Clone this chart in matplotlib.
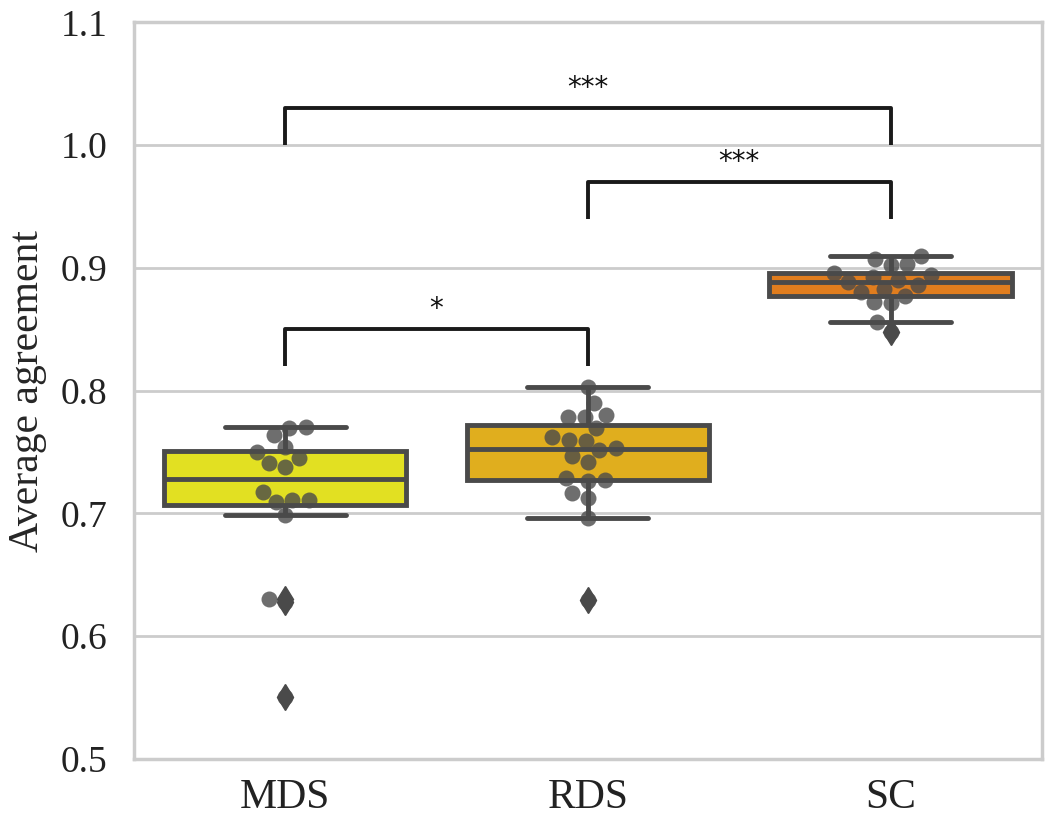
import numpy as np
import pandas as pd
import matplotlib
matplotlib.use("Agg")
import matplotlib.pyplot as plt
import seaborn as sns

# average agreement per method
methods = ["MDS", "RDS", "SC"]
mds = [0.5507, 0.6281, 0.6300, 0.6987, 0.7095, 0.7109, 0.7109, 0.7177,
       0.7380, 0.7408, 0.7449, 0.7502, 0.7543, 0.7638, 0.7693, 0.7706]
rds = [0.6295, 0.6960, 0.7123, 0.7164, 0.7266, 0.7272, 0.7286, 0.7421,
       0.7467, 0.7516, 0.7530, 0.7592, 0.7598, 0.7620, 0.7693, 0.7787,
       0.7787, 0.7801, 0.7897, 0.8032]
sc = [0.8480, 0.8556, 0.8710, 0.8724, 0.8773, 0.8806, 0.8830, 0.8860,
      0.8887, 0.8900, 0.8928, 0.8941, 0.8960, 0.9023, 0.9028, 0.9069, 0.9099]
box_colors = ["#e2e022", "#e0ae1e", "#e07d1e"]

# significance brackets: (left, right, y, label)
brackets = [(0, 1, 0.82, "*"), (1, 2, 0.94, "***"), (0, 2, 1.0, "***")]
bh = 0.03

df = pd.DataFrame({
    "method": ["MDS"] * len(mds) + ["RDS"] * len(rds) + ["SC"] * len(sc),
    "agreement": mds + rds + sc,
})

sns.set_theme(style="whitegrid")
plt.rcParams["font.family"] = ["Liberation Serif", "DejaVu Serif"]

fig, ax = plt.subplots(figsize=(10.45, 8.25), dpi=100)
fig.subplots_adjust(left=0.128, right=0.997, bottom=0.08, top=0.973)

line_c = "#4a4a4a"
sns.boxplot(data=df, x="method", y="agreement", hue="method", palette=box_colors,
            saturation=1, width=0.8, linewidth=3.5, linecolor=line_c,
            flierprops=dict(marker="d", markersize=13, markerfacecolor=line_c,
                            markeredgecolor=line_c, zorder=5),
            legend=False, ax=ax)
sns.swarmplot(data=df, x="method", y="agreement", color="#4a4a4a", alpha=0.8,
              size=11.5, zorder=3, ax=ax)

for x1, x2, y, lab in brackets:
    ax.plot([x1, x1, x2, x2], [y, y + bh, y + bh, y], lw=2.8, c="k",
            solid_capstyle="butt")
    ax.text((x1 + x2) / 2, y + bh + 0.005, lab, ha="center", va="bottom",
            fontsize=20, family=["DejaVu Sans"], color="#111111")

ax.set_xlim(-0.5, 2.5)
ax.set_ylim(0.5, 1.1)
ax.set_yticks([0.5, 0.6, 0.7, 0.8, 0.9, 1.0, 1.1])
ax.set_xlabel("")
ax.set_ylabel("Average agreement", fontsize=30, labelpad=10)
ax.tick_params(axis="x", labelsize=30, colors="#222222", pad=8)
ax.tick_params(axis="y", labelsize=27, colors="#222222", pad=13)
for s in ax.spines.values():
    s.set_color("#cccccc")
    s.set_linewidth(2.5)
ax.grid(axis="y", color="#cccccc", lw=2)
ax.grid(axis="x", visible=False)

fig.savefig("out.png", dpi=100)
